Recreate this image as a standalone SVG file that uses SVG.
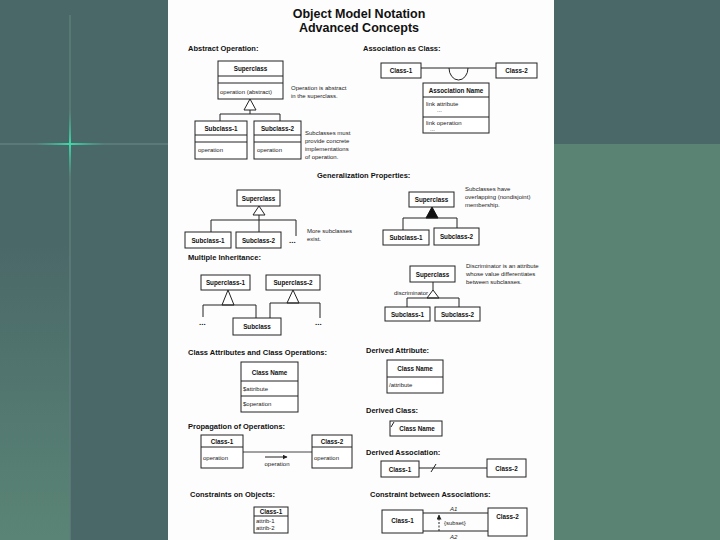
<svg xmlns="http://www.w3.org/2000/svg" width="720" height="540" viewBox="0 0 720 540">
<defs>
<linearGradient id="lg" x1="0" y1="0" x2="0" y2="1">
<stop offset="0" stop-color="#4a6868"/>
<stop offset="0.45" stop-color="#4a6868"/>
<stop offset="1" stop-color="#5a8576"/>
</linearGradient>
<linearGradient id="gh" x1="0" y1="0" x2="1" y2="0">
<stop offset="0" stop-color="#33c29a" stop-opacity="0"/>
<stop offset="0.5" stop-color="#3fd8a8" stop-opacity="1"/>
<stop offset="1" stop-color="#33c29a" stop-opacity="0"/>
</linearGradient>
<linearGradient id="gv" x1="0" y1="0" x2="0" y2="1">
<stop offset="0" stop-color="#33c29a" stop-opacity="0"/>
<stop offset="0.5" stop-color="#3fd8a8" stop-opacity="1"/>
<stop offset="1" stop-color="#33c29a" stop-opacity="0"/>
</linearGradient>
<marker id="ah" viewBox="0 0 10 10" refX="9" refY="5" markerWidth="5" markerHeight="5" orient="auto">
<path d="M0,0 L10,5 L0,10 z" fill="#222"/>
</marker>
<style>
.b{fill:#fff;stroke:#222;stroke-width:1}
.l{stroke:#222;stroke-width:1;fill:none}
.h{font-family:"Liberation Sans",Arial,sans-serif;font-weight:bold;font-size:7.5px;fill:#111}
.t{font-family:"Liberation Sans",Arial,sans-serif;font-weight:bold;font-size:6.3px;fill:#111;text-anchor:middle}
.o{font-family:"Liberation Sans",Arial,sans-serif;font-size:6px;fill:#222}
.n{font-family:"Liberation Sans",Arial,sans-serif;font-size:6px;fill:#222}
.tri{fill:#fff;stroke:#222;stroke-width:1}
</style>
</defs>
<!-- background -->
<rect x="0" y="0" width="720" height="540" fill="#4a6868"/>
<rect x="0" y="0" width="70" height="540" fill="url(#lg)"/>
<rect x="554" y="144" width="166" height="396" fill="#5a8373"/>
<line x1="70" y1="15" x2="70" y2="540" stroke="#5e7e7b" stroke-width="1.5"/>
<line x1="0" y1="144" x2="168" y2="144" stroke="#5f807d" stroke-width="1.5"/>
<rect x="35" y="143" width="70" height="2" fill="url(#gh)"/>
<rect x="69" y="110" width="2" height="68" fill="url(#gv)"/>
<!-- page -->
<rect x="168" y="0" width="386" height="540" fill="#fdfdfd"/>
<!-- title -->
<text x="359" y="18" text-anchor="middle" font-family="Liberation Sans,Arial,sans-serif" font-weight="bold" font-size="12.5" fill="#111">Object Model Notation</text>
<text x="359" y="32" text-anchor="middle" font-family="Liberation Sans,Arial,sans-serif" font-weight="bold" font-size="12.5" fill="#111">Advanced Concepts</text>
<!-- section headers -->
<g id="headers">
<text class="h" x="188" y="51">Abstract Operation:</text>
<text class="h" x="363" y="51">Association as Class:</text>
<text class="h" x="317" y="178">Generalization Properties:</text>
<text class="h" x="188" y="260">Multiple Inheritance:</text>
<text class="h" x="188" y="355">Class Attributes and Class Operations:</text>
<text class="h" x="366" y="353">Derived Attribute:</text>
<text class="h" x="366" y="413">Derived Class:</text>
<text class="h" x="188" y="429">Propagation of Operations:</text>
<text class="h" x="366" y="455">Derived Association:</text>
<text class="h" x="190" y="497">Constraints on Objects:</text>
<text class="h" x="370" y="497">Constraint between Associations:</text>
</g>
<!-- notes -->
<g id="notes">
<text class="n" x="291" y="90">Operation is abstract</text>
<text class="n" x="291" y="98">in the superclass.</text>
<text class="n" x="305" y="135">Subclasses must</text>
<text class="n" x="305" y="143">provide concrete</text>
<text class="n" x="305" y="151">implementations</text>
<text class="n" x="305" y="159">of operation.</text>
<text class="n" x="307" y="233">More subclasses</text>
<text class="n" x="307" y="241">exist.</text>
<text class="n" x="465" y="191">Subclasses have</text>
<text class="n" x="465" y="199">overlapping (nondisjoint)</text>
<text class="n" x="465" y="207">membership.</text>
<text class="n" x="466" y="268">Discriminator is an attribute</text>
<text class="n" x="466" y="276">whose value differentiates</text>
<text class="n" x="466" y="284">between subclasses.</text>
</g>
<!-- connectors -->
<g id="connectors">
<!-- abstract operation -->
<polygon class="tri" points="250,99 244,110 256,110"/>
<path class="l" d="M250,110 V114 M220,114 H280 M220,114 V121 M280,114 V121"/>
<!-- association as class -->
<path class="l" d="M421,68 H496"/>
<path class="l" d="M449,68 A9.5,12 0 0 0 468,68"/>
<!-- generalization -->
<polygon class="tri" points="259,206 253,215 265,215"/>
<path class="l" d="M259,215 V220 M211,220 H296 M211,220 V232 M259,220 V232 M296,220 V236"/>
<text x="289" y="243" font-family="Liberation Sans,Arial,sans-serif" font-weight="bold" font-size="8" fill="#111">...</text>
<!-- overlapping -->
<polygon points="432,207 426,218 438,218" fill="#111" stroke="#111" stroke-width="1"/>
<path class="l" d="M403,218 H457 M403,218 V230 M457,218 V228"/>
<!-- discriminator -->
<path class="l" d="M433,282 V290"/>
<polygon class="tri" points="433,290 427,298 439,298"/>
<path class="l" d="M407,298 H459 M407,298 V307 M459,298 V307"/>
<text class="o" x="428" y="295" text-anchor="end" font-size="6.3">discriminator</text>
<!-- multiple inheritance -->
<polygon class="tri" points="228,290 222,305 234,305"/>
<path class="l" d="M203,305 H256 M203,305 V317 M256,305 V318"/>
<polygon class="tri" points="293,290 287,303 299,303"/>
<path class="l" d="M270,303 H320 M270,303 V318 M320,303 V318"/>
<text x="199" y="325" font-family="Liberation Sans,Arial,sans-serif" font-weight="bold" font-size="8" fill="#111">...</text>
<text x="315" y="325" font-family="Liberation Sans,Arial,sans-serif" font-weight="bold" font-size="8" fill="#111">...</text>
<!-- propagation -->
<path d="M243,452 H312" stroke="#444" stroke-width="1" fill="none"/>
<path d="M265,457 H287" stroke="#222" stroke-width="1" fill="none" marker-end="url(#ah)"/>
<text class="o" x="277" y="466" text-anchor="middle">operation</text>
<!-- derived association -->
<path class="l" d="M419,468 H487 M431,472 L436,464"/>
<!-- constraint between associations -->
<path class="l" d="M423,513 H488 M423,531 H488"/>
<path d="M439,531 V515" stroke="#222" stroke-width="1" stroke-dasharray="2,1.5" fill="none" marker-end="url(#ah)"/>
<text class="o" x="450" y="511" font-style="italic">A1</text>
<text class="o" x="450" y="539" font-style="italic">A2</text>
<text class="o" x="444" y="525">{subset}</text>
</g>
<!-- nodes -->
<g id="ao-superclass">
<rect class="b" x="218" y="61" width="65" height="38"/>
<path class="l" d="M218,76 H283 M218,83 H283"/>
<text class="t" x="250.5" y="71">Superclass</text>
<text class="o" x="220" y="93.5">operation (abstract)</text>
</g>
<g id="ao-subclass1">
<rect class="b" x="195" y="121" width="52" height="38"/>
<path class="l" d="M195,135 H247 M195,142 H247"/>
<text class="t" x="221" y="131">Subclass-1</text>
<text class="o" x="198" y="152">operation</text>
</g>
<g id="ao-subclass2">
<rect class="b" x="254" y="121" width="47" height="38"/>
<path class="l" d="M254,135 H301 M254,142 H301"/>
<text class="t" x="277.5" y="131">Subclass-2</text>
<text class="o" x="257" y="152">operation</text>
</g>
<g id="ac-class1">
<rect class="b" x="381" y="63" width="40" height="15"/>
<text class="t" x="401" y="73">Class-1</text>
</g>
<g id="ac-class2">
<rect class="b" x="496" y="63" width="41" height="15"/>
<text class="t" x="516.5" y="73">Class-2</text>
</g>
<g id="ac-assoc">
<rect class="b" x="423" y="83" width="66" height="50"/>
<path class="l" d="M423,97 H489 M423,117 H489"/>
<text class="t" x="456" y="92.5">Association Name</text>
<text class="o" x="426" y="106">link attribute</text>
<text class="o" x="437" y="112">...</text>
<text class="o" x="426" y="125">link operation</text>
<text class="o" x="430" y="131">...</text>
</g>
<g id="gp-superclass">
<rect class="b" x="237" y="190" width="43" height="16"/>
<text class="t" x="258.5" y="200.5">Superclass</text>
</g>
<g id="gp-subclass1">
<rect class="b" x="185" y="232" width="46" height="16"/>
<text class="t" x="208" y="242.5">Subclass-1</text>
</g>
<g id="gp-subclass2">
<rect class="b" x="236" y="232" width="45" height="16"/>
<text class="t" x="258.5" y="242.5">Subclass-2</text>
</g>
<g id="ov-superclass">
<rect class="b" x="409" y="192" width="45" height="15"/>
<text class="t" x="431.5" y="202">Superclass</text>
</g>
<g id="ov-subclass1">
<rect class="b" x="383" y="230" width="46" height="15"/>
<text class="t" x="406" y="240">Subclass-1</text>
</g>
<g id="ov-subclass2">
<rect class="b" x="434" y="228" width="45" height="17"/>
<text class="t" x="456.5" y="239">Subclass-2</text>
</g>
<g id="di-superclass">
<rect class="b" x="410" y="266" width="45" height="16"/>
<text class="t" x="432.5" y="276.5">Superclass</text>
</g>
<g id="di-subclass1">
<rect class="b" x="385" y="307" width="45" height="14"/>
<text class="t" x="407.5" y="316.5">Subclass-1</text>
</g>
<g id="di-subclass2">
<rect class="b" x="435" y="307" width="45" height="14"/>
<text class="t" x="457.5" y="316.5">Subclass-2</text>
</g>
<g id="mi-superclass1">
<rect class="b" x="201" y="275" width="49" height="15"/>
<text class="t" x="225.5" y="285">Superclass-1</text>
</g>
<g id="mi-superclass2">
<rect class="b" x="266" y="275" width="54" height="15"/>
<text class="t" x="293" y="285">Superclass-2</text>
</g>
<g id="mi-subclass">
<rect class="b" x="233" y="318" width="48" height="17"/>
<text class="t" x="257" y="329">Subclass</text>
</g>
<g id="ca-classname">
<rect class="b" x="241" y="362" width="57" height="50"/>
<path class="l" d="M241,381 H298 M241,396 H298"/>
<text class="t" x="269.5" y="374.5" font-size="7">Class Name</text>
<text class="o" x="243" y="391">$attribute</text>
<text class="o" x="243" y="406">$operation</text>
</g>
<g id="da-classname">
<rect class="b" x="387" y="360" width="56" height="33"/>
<path class="l" d="M387,377 H443"/>
<text class="t" x="415" y="371">Class Name</text>
<text class="o" x="389" y="387">/attribute</text>
</g>
<g id="dc-classname">
<rect class="b" x="390" y="421" width="52" height="15"/>
<path class="l" d="M391,427 L394,422"/>
<text class="t" x="417" y="431">Class Name</text>
</g>
<g id="po-class1">
<rect class="b" x="201" y="435" width="42" height="33"/>
<path class="l" d="M201,447 H243"/>
<text class="t" x="222" y="444">Class-1</text>
<text class="o" x="203" y="460">operation</text>
</g>
<g id="po-class2">
<rect class="b" x="312" y="435" width="40" height="33"/>
<path class="l" d="M312,447 H352"/>
<text class="t" x="332" y="444">Class-2</text>
<text class="o" x="314" y="460">operation</text>
</g>
<g id="das-class1">
<rect class="b" x="381" y="461" width="38" height="16"/>
<text class="t" x="400" y="471.5">Class-1</text>
</g>
<g id="das-class2">
<rect class="b" x="487" y="459" width="39" height="18"/>
<text class="t" x="506.5" y="470.5">Class-2</text>
</g>
<g id="co-class1">
<rect class="b" x="254" y="507" width="34" height="26"/>
<path class="l" d="M254,516 H288"/>
<text class="t" x="271" y="514" font-size="5.8">Class-1</text>
<text class="o" x="256" y="523" font-size="5.5">attrib-1</text>
<text class="o" x="256" y="530" font-size="5.5">attrib-2</text>
</g>
<g id="cb-class1">
<rect class="b" x="382" y="510" width="41" height="23"/>
<text class="t" x="402.5" y="523">Class-1</text>
</g>
<g id="cb-class2">
<rect class="b" x="488" y="508" width="39" height="28"/>
<text class="t" x="507.5" y="519">Class-2</text>
</g>
</svg>
